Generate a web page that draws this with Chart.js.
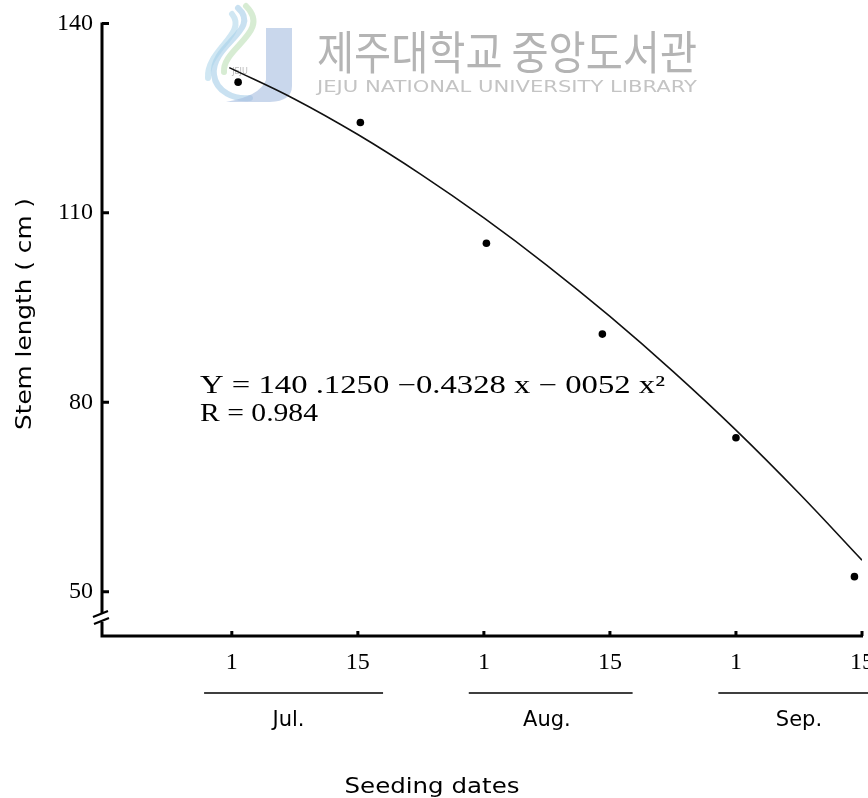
<!DOCTYPE html>
<html>
<head>
<meta charset="utf-8">
<script src="https://cdn.jsdelivr.net/npm/chart.js@4/dist/chart.umd.min.js"></script>
<style>
  html, body { margin: 0; padding: 0; background: #ffffff; }
  #wrap { width: 868px; height: 798px; }
</style>
</head>
<body>
<div id="wrap"><canvas id="c" width="868" height="798"></canvas></div>
<script>
// Seeding-date positions on the x scale (1 = Jul 1 ... 6 = Sep 15)
const dateTicks = [1, 2, 3, 4, 5, 6];
const dayLabels = ['1', '15', '1', '15', '1', '15'];
const months = ['Jul.', 'Aug.', 'Sep.'];
const yTicks = [50, 80, 110, 140];

// Observed stem length (cm) for each seeding date
const observedX = [1.05, 2.02, 3.02, 3.94, 5.0, 5.94];
const stemLength = [130.7, 124.3, 105.2, 90.8, 74.4, 52.4];

// Regression curve as traced along its length
const fitX = [0.98, 1.5, 2.0, 2.5, 3.0, 3.5, 4.0, 4.5, 5.0, 5.5, 6.0];
const fitY = [133.0, 128.0, 122.4, 116.1, 109.2, 101.7, 93.6, 84.9, 75.6, 65.6, 55.0];

const equationText = 'Y = 140 .1250 \u22120.4328 x \u2212 0052 x\u00b2';
const rText = 'R = 0.984';
const yTitle = 'Stem length ( cm )';
const xTitle = 'Seeding dates';

function fitText(ctx, txt, x, y, font, width, align) {
  ctx.save();
  ctx.font = font;
  const w = ctx.measureText(txt).width;
  ctx.translate(x, y);
  ctx.scale(width / w, 1);
  ctx.textAlign = align || 'center';
  ctx.textBaseline = 'middle';
  ctx.fillText(txt, 0, 0);
  ctx.restore();
}

const decor = {
  id: 'decor',
  beforeDatasetsDraw(chart) {
    // library watermark
    const ctx = chart.ctx;
    ctx.save();
    ctx.lineCap = 'round';
    ctx.globalAlpha = 0.55;
    ctx.lineWidth = 6;
    ctx.strokeStyle = '#9cc8e6';
    ctx.beginPath();
    ctx.moveTo(238, 8);
    ctx.bezierCurveTo(262, 30, 210, 45, 214, 75);
    ctx.bezierCurveTo(216, 92, 235, 100, 250, 98);
    ctx.stroke();
    ctx.strokeStyle = '#b6dcae';
    ctx.beginPath();
    ctx.moveTo(246, 6);
    ctx.bezierCurveTo(272, 32, 222, 48, 224, 72);
    ctx.stroke();
    ctx.strokeStyle = '#a9d3ea';
    ctx.beginPath();
    ctx.moveTo(232, 14);
    ctx.bezierCurveTo(248, 34, 206, 50, 208, 78);
    ctx.stroke();
    ctx.globalAlpha = 0.6;
    ctx.fillStyle = '#a5bde0';
    ctx.beginPath();
    ctx.moveTo(266, 28);
    ctx.lineTo(292, 28);
    ctx.lineTo(292, 86);
    ctx.quadraticCurveTo(292, 101, 270, 102);
    ctx.lineTo(226, 102);
    ctx.quadraticCurveTo(260, 96, 266, 80);
    ctx.closePath();
    ctx.fill();
    ctx.globalAlpha = 1;
    ctx.fillStyle = '#b9b9b9';
    ctx.font = '8px "DejaVu Sans"';
    ctx.textAlign = 'center';
    ctx.textBaseline = 'middle';
    ctx.fillText('JEJU', 240, 72);
    ctx.fillStyle = '#b4b4b4';
    fitText(ctx, '제주대학교 중앙도서관', 507, 52, '46px "Noto Sans CJK KR"', 380, 'center');
    ctx.fillStyle = '#c4c4c4';
    fitText(ctx, 'JEJU NATIONAL UNIVERSITY LIBRARY', 507, 88, '16px "DejaVu Sans"', 380, 'center');
    ctx.restore();
  },
  afterDraw(chart) {
    const ctx = chart.ctx;
    const xs = chart.scales.x, ys = chart.scales.y;
    const a = chart.chartArea;
    const x0 = a.left, yb = a.bottom;
    ctx.save();
    ctx.strokeStyle = '#000';
    ctx.fillStyle = '#000';
    ctx.lineCap = 'butt';

    // y axis with a break just below 50
    ctx.lineWidth = 3;
    ctx.beginPath();
    ctx.moveTo(x0, a.top - 1);
    ctx.lineTo(x0, yb - 23);
    ctx.moveTo(x0, yb - 14);
    ctx.lineTo(x0, yb);
    ctx.lineTo(a.right + 1, yb);
    ctx.stroke();
    ctx.lineWidth = 2.2;
    ctx.beginPath();
    ctx.moveTo(x0 - 9, yb - 19);
    ctx.lineTo(x0 + 6, yb - 25);
    ctx.moveTo(x0 - 8, yb - 12);
    ctx.lineTo(x0 + 7, yb - 18);
    ctx.stroke();

    // inward tick marks
    ctx.lineWidth = 3;
    ctx.beginPath();
    yTicks.forEach(v => {
      const p = ys.getPixelForValue(v);
      ctx.moveTo(x0, p);
      ctx.lineTo(x0 + 7, p);
    });
    dateTicks.forEach(v => {
      const p = xs.getPixelForValue(v);
      ctx.moveTo(p, yb);
      ctx.lineTo(p, yb - 5);
    });
    ctx.stroke();

    // day labels under the ticks
    ctx.font = '24px "Liberation Serif"';
    ctx.textAlign = 'center';
    ctx.textBaseline = 'middle';
    dateTicks.forEach((v, i) => {
      ctx.fillText(dayLabels[i], xs.getPixelForValue(v), yb + 27);
    });

    // month brackets and names
    ctx.lineWidth = 1.3;
    const spans = [[0.78, 2.2], [2.88, 4.18], [4.86, 6.1]];
    ctx.beginPath();
    spans.forEach(s => {
      ctx.moveTo(xs.getPixelForValue(s[0]), yb + 57);
      ctx.lineTo(xs.getPixelForValue(s[1]), yb + 57);
    });
    ctx.stroke();
    ctx.font = '21px "DejaVu Sans"';
    const monthPos = [1.45, 3.5, 5.5];
    months.forEach((m, i) => {
      ctx.fillText(m, xs.getPixelForValue(monthPos[i]), yb + 85);
    });

    // axis titles
    fitText(ctx, xTitle, 432, 788, '21px "DejaVu Sans"', 175, 'center');
    ctx.save();
    ctx.translate(26, 314);
    ctx.rotate(-Math.PI / 2);
    fitText(ctx, yTitle, 0, 0, '21px "DejaVu Sans"', 232, 'center');
    ctx.restore();

    // regression equation
    fitText(ctx, equationText, 200, 386, '25px "Liberation Serif"', 465, 'left');
    fitText(ctx, rText, 200, 414, '25px "Liberation Serif"', 118, 'left');
    ctx.restore();
  }
};

const chart = new Chart(document.getElementById('c'), {
  type: 'scatter',
  data: {
    datasets: [
      {
        label: 'Regression',
        data: fitX.map((x, i) => ({ x: x, y: fitY[i] })),
        showLine: true,
        borderColor: '#111',
        borderWidth: 1.6,
        pointRadius: 0,
        tension: 0.4,
        fill: false
      },
      {
        label: 'Stem length',
        data: observedX.map((x, i) => ({ x: x, y: stemLength[i] })),
        showLine: false,
        pointRadius: 3.8,
        pointBackgroundColor: '#000',
        pointBorderColor: '#000',
        pointBorderWidth: 0
      }
    ]
  },
  options: {
    responsive: false,
    animation: false,
    devicePixelRatio: 1,
    layout: { padding: { top: 23, right: 6, left: 0, bottom: 0 } },
    plugins: { legend: { display: false }, tooltip: { enabled: false } },
    scales: {
      x: {
        type: 'linear',
        min: -0.03,
        max: 6.0,
        grid: { display: false, drawTicks: false },
        border: { display: false },
        ticks: { display: false },
        afterBuildTicks: s => { s.ticks = dateTicks.map(v => ({ value: v })); },
        afterFit: s => { s.height = 162; }
      },
      y: {
        type: 'linear',
        min: 43,
        max: 140,
        grid: { display: false, drawTicks: false },
        border: { display: false },
        afterBuildTicks: s => { s.ticks = yTicks.map(v => ({ value: v })); },
        ticks: {
          color: '#000',
          padding: 9,
          font: { family: 'Liberation Serif', size: 24 },
          callback: v => String(v)
        },
        afterFit: s => { s.width = 102; }
      }
    }
  },
  plugins: [decor]
});
</script>
</body>
</html>
